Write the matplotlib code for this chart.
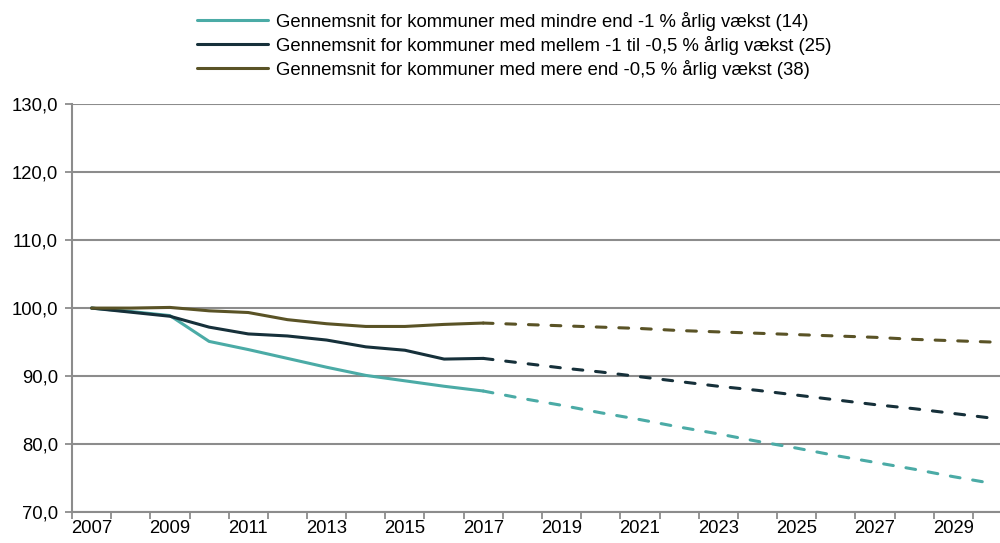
import numpy as np
import matplotlib
matplotlib.use("Agg")
import matplotlib.pyplot as plt
import matplotlib.ticker as mticker

plt.rcParams["font.family"] = ["Liberation Sans", "DejaVu Sans"]

# ─────────────────────────────────────────────
# DATA (index, 2007 = 100)
# ─────────────────────────────────────────────
years = list(range(2007, 2031))
hist_years = list(range(2007, 2018))
proj_years = list(range(2017, 2031))

labels = [
    "Gennemsnit for kommuner med mindre end -1 % årlig vækst (14)",
    "Gennemsnit for kommuner med mellem -1 til -0,5 % årlig vækst (25)",
    "Gennemsnit for kommuner med mere end -0,5 % årlig vækst (38)",
]

hist_low = [100.0, 99.5, 98.9, 95.1, 93.9, 92.6, 91.3, 90.1, 89.3, 88.5, 87.8]
hist_mid = [100.0, 99.4, 98.8, 97.2, 96.2, 95.9, 95.3, 94.3, 93.8, 92.5, 92.6]
hist_high = [100.0, 100.0, 100.1, 99.6, 99.35, 98.3, 97.7, 97.3, 97.3, 97.6, 97.8]

proj_low = [87.8, 86.7, 85.7, 84.6, 83.6, 82.5, 81.5, 80.4, 79.4, 78.3, 77.3, 76.3, 75.2, 74.2]
proj_mid = [92.6, 91.9, 91.2, 90.6, 89.9, 89.2, 88.5, 87.9, 87.2, 86.5, 85.8, 85.2, 84.5, 83.8]
proj_high = [97.8, 97.6, 97.4, 97.2, 97.0, 96.7, 96.5, 96.3, 96.1, 95.9, 95.7, 95.4, 95.2, 95.0]

colors = ["#4BABA6", "#16303A", "#5A5326"]

# ─────────────────────────────────────────────
# PLOT
# ─────────────────────────────────────────────
fig = plt.figure(figsize=(10, 5.43), dpi=100)
ax = fig.add_axes([0.072, 0.0571, 0.94, 0.751])

pos = {y: i for i, y in enumerate(years)}
hx = [pos[y] for y in hist_years]
px = [pos[y] for y in proj_years]

for hist, proj, col, lab in zip([hist_low, hist_mid, hist_high],
                                [proj_low, proj_mid, proj_high], colors, labels):
    ax.plot(px, proj, color=col, linewidth=2.2, dashes=(3.2, 4.2),
            dash_capstyle="round", zorder=3)
    ax.plot(hx, hist, color=col, linewidth=2.2, solid_capstyle="round",
            solid_joinstyle="round", label=lab, zorder=4)

ax.set_xlim(-0.5, len(years) - 0.5)
ax.set_ylim(70, 130)
ax.yaxis.set_major_locator(mticker.MultipleLocator(10))
ax.yaxis.set_major_formatter(mticker.FuncFormatter(lambda v, p: f"{v:.1f}".replace(".", ",")))
ax.grid(axis="y", color="#8C8C8C", linewidth=1.5, zorder=1)

ax.set_xticks(range(0, len(years), 2))
ax.set_xticklabels([str(y) for y in years[::2]])
ax.set_xticks(np.arange(-0.5, len(years), 1), minor=True)
ax.tick_params(axis="x", which="major", length=0, pad=6, labelsize=13.3)
ax.tick_params(axis="x", which="minor", length=5, width=1.3, color="#8C8C8C")
ax.tick_params(axis="y", length=5, width=1.3, color="#8C8C8C", labelsize=13.3, pad=5)

for side in ["top", "right"]:
    ax.spines[side].set_visible(False)
for side in ["left", "bottom"]:
    ax.spines[side].set_color("#8C8C8C")
    ax.spines[side].set_linewidth(1.5)

fig.legend(loc="upper left", bbox_to_anchor=(0.19, 0.992), frameon=False,
           fontsize=13.3, handlelength=3.8, handletextpad=0.45, labelspacing=0.27,
           borderaxespad=0)

fig.savefig("out.png", dpi=100)
